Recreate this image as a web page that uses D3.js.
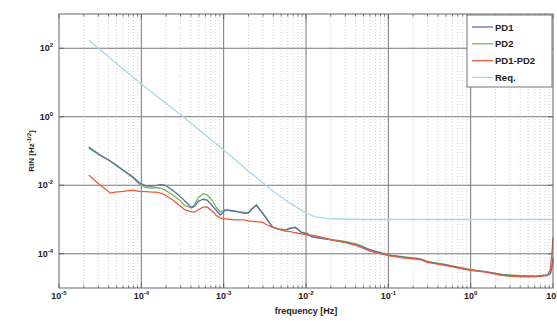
<!DOCTYPE html>
<html>
<head>
<meta charset="utf-8">
<script src="https://cdn.jsdelivr.net/npm/d3@7"></script>
<style>
  body { margin: 0; background: #fff; }
  svg text { font-family: "Liberation Sans", Arial, sans-serif; font-weight: bold; fill: #222; }
</style>
</head>
<body>
<div id="chart"></div>
<script>
// frequency grid shared by the measured spectra [Hz]
const freq = [2.3e-5, 3e-5, 4.2e-5, 4.8e-5, 6e-5, 7.8e-5, 9.5e-5, 1.15e-4, 1.35e-4, 1.5e-4,
  1.7e-4, 1.95e-4, 2.4e-4, 2.9e-4, 3.4e-4, 4.1e-4, 4.5e-4, 4.9e-4, 5.6e-4, 6.3e-4,
  7.2e-4, 8.2e-4, 9.1e-4, 1.05e-3, 1.25e-3, 1.5e-3, 1.8e-3, 2.0e-3, 2.2e-3, 2.5e-3,
  2.7e-3, 2.95e-3, 3.4e-3, 3.9e-3, 4.6e-3, 5.6e-3, 6.5e-3, 7.4e-3, 8.9e-3, 1.05e-2,
  1.17e-2, 1.5e-2, 2.1e-2, 3e-2, 4.2e-2, 6e-2, 0.1, 0.15, 0.24, 0.3,
  0.5, 0.98, 1.5, 2.45, 4, 6, 8.5, 9.3, 9.7, 10];

const pd1 = [0.13, 0.083, 0.051, 0.041, 0.028, 0.018, 0.0117, 0.0095, 0.0095, 0.0097,
  0.0105, 0.010, 0.0072, 0.0049, 0.0034, 0.0022, 0.0025, 0.0034, 0.0039, 0.0037,
  0.0026, 0.0018, 0.00135, 0.0019, 0.0018, 0.00166, 0.0015, 0.00155, 0.002, 0.0026,
  0.002, 0.00155, 0.00098, 0.0006, 0.00052, 0.00049, 0.00055, 0.0006, 0.00041, 0.00038,
  0.00031, 0.00028, 0.00025, 0.00022, 0.00018, 0.00013, 9.1e-5, 8e-5, 7.1e-5, 5.8e-5,
  4.7e-5, 3.4e-5, 3e-5, 2.4e-5, 2.2e-5, 2.2e-5, 2.4e-5, 2.6e-5, 4e-5, 7e-5];

const pd2 = [0.12, 0.08, 0.05, 0.04, 0.027, 0.017, 0.0105, 0.0085, 0.0083, 0.0085,
  0.0083, 0.0072, 0.0052, 0.0037, 0.0025, 0.0022, 0.0029, 0.0043, 0.0056, 0.0052,
  0.0037, 0.0022, 0.00166, 0.0019, 0.0018, 0.0017, 0.0016, 0.0016, 0.0021, 0.0027,
  0.0021, 0.0016, 0.001, 0.00062, 0.00053, 0.0005, 0.00057, 0.00058, 0.00042, 0.00039,
  0.00032, 0.00029, 0.00026, 0.00023, 0.00019, 0.00013, 9.3e-5, 8.2e-5, 7.2e-5, 6e-5,
  4.8e-5, 3.5e-5, 3e-5, 2.5e-5, 2.3e-5, 2.2e-5, 2.4e-5, 2.7e-5, 4.5e-5, 8e-5];

const pdDiff = [0.020, 0.0112, 0.0059, 0.0063, 0.0066, 0.0072, 0.0066, 0.0065, 0.0063, 0.0063,
  0.0059, 0.0052, 0.0037, 0.0026, 0.0019, 0.00166, 0.00166, 0.0019, 0.0023, 0.0023,
  0.0018, 0.0013, 0.0011, 0.00105, 0.001, 0.00098, 0.00098, 0.0009, 0.0009, 0.00085,
  0.00085, 0.00082, 0.00069, 0.0006, 0.00052, 0.00046, 0.00044, 0.00041, 0.00038, 0.00035,
  0.00035, 0.00031, 0.00025, 0.00021, 0.00017, 0.00012, 8.8e-5, 7.6e-5, 6.8e-5, 5.6e-5,
  4.5e-5, 3.3e-5, 2.9e-5, 2.3e-5, 2.1e-5, 2.1e-5, 2.3e-5, 3.5e-5, 1e-4, 3e-4];

// requirement curve
const reqFreq = [2.3e-5, 5e-5, 1e-4, 3e-4, 1e-3, 2e-3, 4e-3, 6e-3, 1e-2, 1.3e-2, 2e-2, 5e-2, 10];
const reqVal = [175, 36, 9.1, 1.15, 0.107, 0.026, 0.0067, 0.0033, 0.00155, 0.0012, 0.00105, 0.001, 0.001];

const seriesNames = ['PD1', 'PD2', 'PD1-PD2', 'Req.'];
const seriesColors = ['#5b6db0', '#72bb58', '#ee5a3a', '#a6d8ea'];

const xTicks = [1e-5, 1e-4, 1e-3, 1e-2, 1e-1, 1e0, 1e1];
const yTicks = [1e-4, 1e-2, 1e0, 1e2];

const W = 557, H = 321;
const margin = { top: 14, right: 4, bottom: 33, left: 59 };
const width = W - margin.left - margin.right;
const height = H - margin.top - margin.bottom;

const svg = d3.select('#chart').append('svg')
  .attr('width', W).attr('height', H);
const g = svg.append('g')
  .attr('transform', `translate(${margin.left},${margin.top})`);

const x = d3.scaleLog().domain([1e-5, 1e1]).range([0, width]);
const y = d3.scaleLog().domain([1e-5, 1e3]).range([height, 0]);

// minor grid (dotted) on x
const minorX = [];
for (let e = -5; e < 1; e++) for (let m = 2; m <= 9; m++) minorX.push(m * Math.pow(10, e));
g.append('g').selectAll('line').data(minorX).join('line')
  .attr('x1', d => x(d)).attr('x2', d => x(d))
  .attr('y1', 0).attr('y2', height)
  .attr('stroke', '#c4c4c4').attr('stroke-width', 0.8)
  .attr('stroke-dasharray', '1,2');

// major grid
g.append('g').selectAll('line').data(xTicks.slice(1, -1)).join('line')
  .attr('x1', d => x(d)).attr('x2', d => x(d))
  .attr('y1', 0).attr('y2', height)
  .attr('stroke', '#777').attr('stroke-width', 1);
g.append('g').selectAll('line').data(yTicks).join('line')
  .attr('y1', d => y(d)).attr('y2', d => y(d))
  .attr('x1', 0).attr('x2', width)
  .attr('stroke', '#777').attr('stroke-width', 1);

// tick marks inside the box
const tickG = g.append('g').attr('stroke', '#555').attr('stroke-width', 0.8);
minorX.forEach(d => {
  tickG.append('line').attr('x1', x(d)).attr('x2', x(d)).attr('y1', height).attr('y2', height - 2.5);
  tickG.append('line').attr('x1', x(d)).attr('x2', x(d)).attr('y1', 0).attr('y2', 2.5);
});
xTicks.forEach(d => {
  tickG.append('line').attr('x1', x(d)).attr('x2', x(d)).attr('y1', height).attr('y2', height - 5);
  tickG.append('line').attr('x1', x(d)).attr('x2', x(d)).attr('y1', 0).attr('y2', 5);
});
yTicks.forEach(d => {
  tickG.append('line').attr('y1', y(d)).attr('y2', y(d)).attr('x1', 0).attr('x2', 5);
  tickG.append('line').attr('y1', y(d)).attr('y2', y(d)).attr('x1', width).attr('x2', width - 5);
});

// lines
const line = d3.line().x(d => x(d[0])).y(d => y(d[1]));
const zip = (a, b) => a.map((v, i) => [v, b[i]]);
const data = [
  { name: 'Req.', pts: zip(reqFreq, reqVal), color: seriesColors[3] },
  { name: 'PD2', pts: zip(freq, pd2), color: seriesColors[1] },
  { name: 'PD1', pts: zip(freq, pd1), color: seriesColors[0] },
  { name: 'PD1-PD2', pts: zip(freq, pdDiff), color: seriesColors[2] }
];
g.append('g').selectAll('path').data(data).join('path')
  .attr('fill', 'none')
  .attr('stroke', d => d.color)
  .attr('stroke-width', 1.3)
  .attr('stroke-linejoin', 'round')
  .attr('d', d => line(d.pts));

// box
g.append('rect').attr('width', width).attr('height', height)
  .attr('fill', 'none').attr('stroke', '#666').attr('stroke-width', 1);

// tick labels
const fmtExp = d => Math.round(Math.log10(d));
const xl = svg.append('g').selectAll('text').data(xTicks).join('text')
  .attr('x', d => margin.left + x(d))
  .attr('y', H - 22)
  .attr('text-anchor', 'middle')
  .attr('font-size', 9);
xl.append('tspan').text('10');
xl.append('tspan').attr('dy', -4).attr('font-size', 6).text(d => fmtExp(d));

const yl = svg.append('g').selectAll('text').data(yTicks).join('text')
  .attr('x', margin.left - 6)
  .attr('y', d => margin.top + y(d) + 3)
  .attr('text-anchor', 'end')
  .attr('font-size', 9);
yl.append('tspan').text('10');
yl.append('tspan').attr('dy', -4).attr('font-size', 6).text(d => fmtExp(d));

// axis titles
svg.append('text')
  .attr('x', margin.left + width / 2).attr('y', H - 7)
  .attr('text-anchor', 'middle').attr('font-size', 9)
  .text('frequency [Hz]');

const yt = svg.append('text')
  .attr('transform', `translate(34,${margin.top + height / 2}) rotate(-90)`)
  .attr('text-anchor', 'middle').attr('font-size', 8);
yt.append('tspan').text('RIN [Hz');
yt.append('tspan').attr('dy', -3).attr('font-size', 6).text('-1/2');
yt.append('tspan').attr('dy', 3).text(']');

// legend
const lg = svg.append('g').attr('transform', 'translate(467,15)');
lg.append('rect').attr('width', 85).attr('height', 72)
  .attr('fill', '#fff').attr('stroke', '#777').attr('stroke-width', 1);
seriesNames.forEach((n, i) => {
  const yy = 12 + i * 16.8;
  lg.append('line').attr('x1', 5).attr('x2', 26).attr('y1', yy).attr('y2', yy)
    .attr('stroke', seriesColors[i]).attr('stroke-width', 1.3);
  lg.append('text').attr('x', 28).attr('y', yy + 3.5).attr('font-size', 9.5).text(n);
});
</script>
</body>
</html>
